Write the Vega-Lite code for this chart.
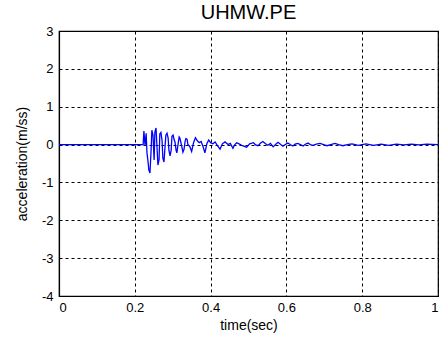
{
  "$schema": "https://vega.github.io/schema/vega-lite/v6.json",
  "width": 379,
  "height": 265,
  "autosize": {"type": "none"},
  "padding": {"left": 59, "top": 31, "right": 3, "bottom": 45},
  "background": "white",
  "title": {"text": "UHMW.PE", "font": "Liberation Sans", "fontSize": 20, "fontWeight": "normal", "color": "black", "offset": 2, "anchor": "middle"},
  "config": {
    "view": {"stroke": "black", "strokeWidth": 1.2},
    "axis": {
      "labelFont": "Liberation Sans", "labelFontSize": 13, "labelColor": "black",
      "titleFont": "Liberation Sans", "titleFontSize": 14, "titleFontWeight": "normal", "titleColor": "black",
      "domainColor": "black", "domainWidth": 1.2,
      "gridColor": "black", "gridOpacity": 1, "gridDash": [3, 3], "gridWidth": 1,
      "ticks": false,
      "labelExpr": "'' + datum.value"
    }
  },
  "data": {"values": [
    {"t": 0.0, "a": 0}, {"t": 0.222, "a": 0},
    {"t": 0.224, "a": 0.36}, {"t": 0.227, "a": -0.02}, {"t": 0.23, "a": 0.3}, {"t": 0.232, "a": -0.2},
    {"t": 0.235, "a": -0.46}, {"t": 0.237, "a": -0.67}, {"t": 0.24, "a": -0.75}, {"t": 0.243, "a": -0.15},
    {"t": 0.245, "a": 0.38}, {"t": 0.248, "a": 0.25}, {"t": 0.251, "a": -0.41}, {"t": 0.253, "a": 0.33},
    {"t": 0.256, "a": 0.44}, {"t": 0.259, "a": -0.15}, {"t": 0.261, "a": -0.54}, {"t": 0.264, "a": -0.4},
    {"t": 0.266, "a": 0.28}, {"t": 0.269, "a": 0.32}, {"t": 0.272, "a": 0.1}, {"t": 0.274, "a": -0.36},
    {"t": 0.277, "a": -0.46}, {"t": 0.28, "a": -0.02}, {"t": 0.282, "a": 0.25}, {"t": 0.285, "a": 0.3},
    {"t": 0.288, "a": 0.17}, {"t": 0.29, "a": -0.15}, {"t": 0.293, "a": -0.3}, {"t": 0.296, "a": -0.15},
    {"t": 0.298, "a": 0.22}, {"t": 0.301, "a": 0.25}, {"t": 0.304, "a": 0.12}, {"t": 0.306, "a": 0.07},
    {"t": 0.309, "a": -0.15}, {"t": 0.311, "a": -0.22}, {"t": 0.314, "a": 0.0}, {"t": 0.317, "a": 0.2},
    {"t": 0.319, "a": 0.17}, {"t": 0.322, "a": 0.04}, {"t": 0.325, "a": -0.1}, {"t": 0.327, "a": -0.2},
    {"t": 0.33, "a": -0.12}, {"t": 0.333, "a": 0.1}, {"t": 0.335, "a": 0.16}, {"t": 0.338, "a": 0.14},
    {"t": 0.34, "a": 0.0}, {"t": 0.345, "a": -0.05}, {"t": 0.35, "a": -0.18}, {"t": 0.355, "a": 0.05},
    {"t": 0.36, "a": 0.18}, {"t": 0.365, "a": 0.1}, {"t": 0.37, "a": 0.05}, {"t": 0.375, "a": 0.08},
    {"t": 0.38, "a": -0.05}, {"t": 0.385, "a": -0.22}, {"t": 0.39, "a": 0.02}, {"t": 0.395, "a": 0.12},
    {"t": 0.4, "a": 0.05}, {"t": 0.406, "a": 0.02}, {"t": 0.412, "a": 0.07}, {"t": 0.418, "a": -0.03}, {"t": 0.425, "a": -0.12}, {"t": 0.431, "a": 0.02}, {"t": 0.438, "a": 0.07},
    {"t": 0.446, "a": 0.0}, {"t": 0.452, "a": 0.03}, {"t": 0.459, "a": -0.1}, {"t": 0.464, "a": 0.0}, {"t": 0.469, "a": 0.05}, {"t": 0.475, "a": 0.02}, {"t": 0.482, "a": -0.02},
    {"t": 0.495, "a": -0.07}, {"t": 0.503, "a": 0.02}, {"t": 0.513, "a": 0.05}, {"t": 0.519, "a": -0.01}, {"t": 0.525, "a": -0.03}, {"t": 0.532, "a": 0.04}, {"t": 0.538, "a": 0.08},
    {"t": 0.545, "a": 0.02}, {"t": 0.551, "a": -0.02}, {"t": 0.558, "a": 0.03}, {"t": 0.565, "a": -0.06}, {"t": 0.572, "a": 0.01}, {"t": 0.578, "a": 0.06}, {"t": 0.585, "a": 0.0}, {"t": 0.591, "a": -0.04},
    {"t": 0.598, "a": 0.01}, {"t": 0.604, "a": 0.04}, {"t": 0.61, "a": 0.0}, {"t": 0.617, "a": -0.04}, {"t": 0.623, "a": 0.01}, {"t": 0.63, "a": 0.03}, {"t": 0.637, "a": 0.0}, {"t": 0.644, "a": -0.04},
    {"t": 0.65, "a": 0.01}, {"t": 0.657, "a": 0.04}, {"t": 0.663, "a": 0.0}, {"t": 0.67, "a": -0.02}, {"t": 0.679, "a": 0.01}, {"t": 0.689, "a": 0.03}, {"t": 0.698, "a": 0.0}, {"t": 0.707, "a": -0.03},
    {"t": 0.717, "a": 0.0}, {"t": 0.728, "a": 0.03}, {"t": 0.738, "a": 0.0}, {"t": 0.749, "a": -0.03}, {"t": 0.761, "a": 0.0}, {"t": 0.773, "a": 0.02}, {"t": 0.79, "a": -0.02},
    {"t": 0.81, "a": 0.02}, {"t": 0.83, "a": -0.02}, {"t": 0.85, "a": 0.01}, {"t": 0.87, "a": -0.02},
    {"t": 0.89, "a": 0.01}, {"t": 0.91, "a": -0.01}, {"t": 0.93, "a": 0.01}, {"t": 0.95, "a": -0.01},
    {"t": 0.97, "a": 0.01}, {"t": 1.0, "a": 0.0}
  ]},
  "mark": {"type": "line", "color": "#0000ff", "strokeWidth": 1.3, "clip": true},
  "encoding": {
    "x": {"field": "t", "type": "quantitative", "scale": {"domain": [0, 1], "nice": false, "zero": false},
      "axis": {"values": [0, 0.2, 0.4, 0.6, 0.8, 1], "title": "time(sec)", "labelPadding": 5, "titlePadding": 4}},
    "y": {"field": "a", "type": "quantitative", "scale": {"domain": [-4, 3], "nice": false},
      "axis": {"values": [-4, -3, -2, -1, 0, 1, 2, 3], "title": "acceleration(m/ss)", "labelPadding": 6, "titlePadding": 12}}
  }
}
